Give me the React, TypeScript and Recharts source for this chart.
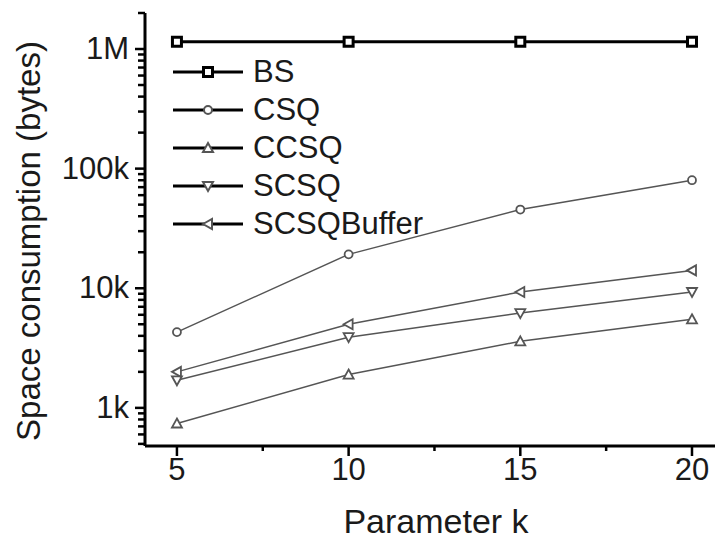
import { LineChart, Line, XAxis, YAxis, Legend } from 'recharts'

const kValues = [5, 10, 15, 20]
const bsValues = [1150000, 1150000, 1150000, 1150000]
const csqValues = [4300, 19200, 45500, 80000]
const ccsqValues = [740, 1900, 3600, 5500]
const scsqValues = [1700, 3900, 6200, 9300]
const scsqBufferValues = [2000, 5000, 9300, 14100]

const seriesOrder = ['BS', 'CSQ', 'CCSQ', 'SCSQ', 'SCSQBuffer']

const xTicks = [5, 7.5, 10, 12.5, 15, 17.5, 20]
const yTicks = [
  500, 600, 700, 800, 900,
  1000, 2000, 3000, 4000, 5000, 6000, 7000, 8000, 9000,
  10000, 20000, 30000, 40000, 50000, 60000, 70000, 80000, 90000,
  100000, 200000, 300000, 400000, 500000, 600000, 700000, 800000, 900000,
  1000000, 2000000,
]
const yLabels: Record<number, string> = { 1000: '1k', 10000: '10k', 100000: '100k', 1000000: '1M' }

const data = kValues.map((k, i) => ({
  k,
  BS: bsValues[i],
  CSQ: csqValues[i],
  CCSQ: ccsqValues[i],
  SCSQ: scsqValues[i],
  SCSQBuffer: scsqBufferValues[i],
}))

const FONT = '"Liberation Sans", Arial, sans-serif'
const GRAY = '#555'

type Shape = 'square' | 'circle' | 'up' | 'down' | 'left'

const shapes: Record<string, Shape> = {
  BS: 'square',
  CSQ: 'circle',
  CCSQ: 'up',
  SCSQ: 'down',
  SCSQBuffer: 'left',
}

function Marker({ shape, cx, cy, color, width }: { shape: Shape; cx: number; cy: number; color: string; width: number }) {
  const common = { fill: '#fff', stroke: color, strokeWidth: width }
  if (shape === 'square') return <rect x={cx - 4.5} y={cy - 4.5} width={9} height={9} {...common} />
  if (shape === 'circle') return <circle cx={cx} cy={cy} r={4} {...common} />
  const s = 5
  let pts = ''
  if (shape === 'up') pts = `${cx},${cy - s} ${cx + s},${cy + s * 0.8} ${cx - s},${cy + s * 0.8}`
  if (shape === 'down') pts = `${cx},${cy + s} ${cx + s},${cy - s * 0.8} ${cx - s},${cy - s * 0.8}`
  if (shape === 'left') pts = `${cx - s},${cy} ${cx + s * 0.8},${cy - s} ${cx + s * 0.8},${cy + s}`
  return <polygon points={pts} {...common} />
}

const makeDot = (shape: Shape, color: string, width: number) => (props: any) => {
  const { cx, cy, index } = props
  if (cx == null || cy == null) return <g key={index} />
  return <Marker key={index} shape={shape} cx={cx} cy={cy} color={color} width={width} />
}

function YTick(props: any) {
  const { x, y, payload } = props
  const label = yLabels[payload.value]
  const major = label !== undefined
  return (
    <g>
      <line x1={x - (major ? 10 : 7)} x2={x} y1={y} y2={y} stroke="#000" strokeWidth={2.5} />
      {major && (
        <text x={x - 16} y={y + 10} textAnchor="end" fontFamily={FONT} fontSize={31} fill="#1a1a1a">
          {label}
        </text>
      )}
    </g>
  )
}

function XTick(props: any) {
  const { x, y, payload } = props
  const major = Number.isInteger(payload.value)
  return (
    <g>
      <line x1={x} x2={x} y1={y} y2={y + (major ? 10 : 5)} stroke="#000" strokeWidth={2.5} />
      {major && (
        <text x={x} y={y + 34} textAnchor="middle" fontFamily={FONT} fontSize={31} fill="#1a1a1a">
          {payload.value}
        </text>
      )}
    </g>
  )
}

function LegendContent(props: any) {
  const items = [...(props.payload || [])].sort(
    (a: any, b: any) => seriesOrder.indexOf(a.dataKey) - seriesOrder.indexOf(b.dataKey)
  )
  return (
    <div style={{ fontFamily: FONT }}>
      {items.map((item: any) => (
        <div key={item.value} style={{ display: 'flex', alignItems: 'center', height: 38 }}>
          <svg width={80} height={38}>
            <line x1={0} x2={70} y1={19} y2={19} stroke="#000" strokeWidth={3} />
            <Marker
              shape={shapes[item.dataKey]}
              cx={35}
              cy={19}
              color={item.dataKey === 'BS' ? '#000' : GRAY}
              width={item.dataKey === 'BS' ? 3 : 2}
            />
          </svg>
          <span style={{ fontSize: 31, color: '#1a1a1a', lineHeight: '38px' }}>{item.value}</span>
        </div>
      ))}
    </div>
  )
}

export default function App() {
  return (
    <div style={{ position: 'absolute', left: 0, top: 0, background: '#fff' }}>
      <LineChart width={715} height={543} data={data} margin={{ top: 13, right: 0, bottom: 0, left: 0 }}>
        <XAxis
          dataKey="k"
          type="number"
          domain={[4.07, 20.67]}
          ticks={xTicks}
          interval={0}
          tickSize={0}
          tickMargin={0}
          tick={<XTick />}
          axisLine={{ stroke: '#000', strokeWidth: 3 }}
          height={97}
          allowDataOverflow
          label={{
            value: 'Parameter k',
            content: () => (
              <text x={436} y={533} textAnchor="middle" fontFamily={FONT} fontSize={34} fill="#1a1a1a">
                Parameter k
              </text>
            ),
          }}
        />
        <YAxis
          scale="log"
          type="number"
          domain={[480, 2000000]}
          ticks={yTicks}
          interval={0}
          tickSize={0}
          tickMargin={0}
          tick={<YTick />}
          axisLine={{ stroke: '#000', strokeWidth: 3 }}
          width={145}
          allowDataOverflow
          label={{
            value: 'Space consumption (bytes)',
            content: () => (
              <text
                x={40}
                y={241}
                transform="rotate(-90 40 241)"
                textAnchor="middle"
                fontFamily={FONT}
                fontSize={33}
                fill="#1a1a1a"
              >
                Space consumption (bytes)
              </text>
            ),
          }}
        />
        <Legend
          layout="vertical"
          align="center"
          verticalAlign="middle"
          content={<LegendContent />}
          wrapperStyle={{ left: 173, top: 53, width: 'auto' }}
        />
        <Line dataKey="BS" name="BS" stroke="#000" strokeWidth={3} dot={makeDot('square', '#000', 3)} isAnimationActive={false} />
        <Line dataKey="CSQ" name="CSQ" stroke={GRAY} strokeWidth={1.5} dot={makeDot('circle', GRAY, 1.8)} isAnimationActive={false} />
        <Line dataKey="CCSQ" name="CCSQ" stroke={GRAY} strokeWidth={1.5} dot={makeDot('up', GRAY, 1.8)} isAnimationActive={false} />
        <Line dataKey="SCSQ" name="SCSQ" stroke={GRAY} strokeWidth={1.5} dot={makeDot('down', GRAY, 1.8)} isAnimationActive={false} />
        <Line dataKey="SCSQBuffer" name="SCSQBuffer" stroke={GRAY} strokeWidth={1.5} dot={makeDot('left', GRAY, 1.8)} isAnimationActive={false} />
      </LineChart>
    </div>
  )
}
